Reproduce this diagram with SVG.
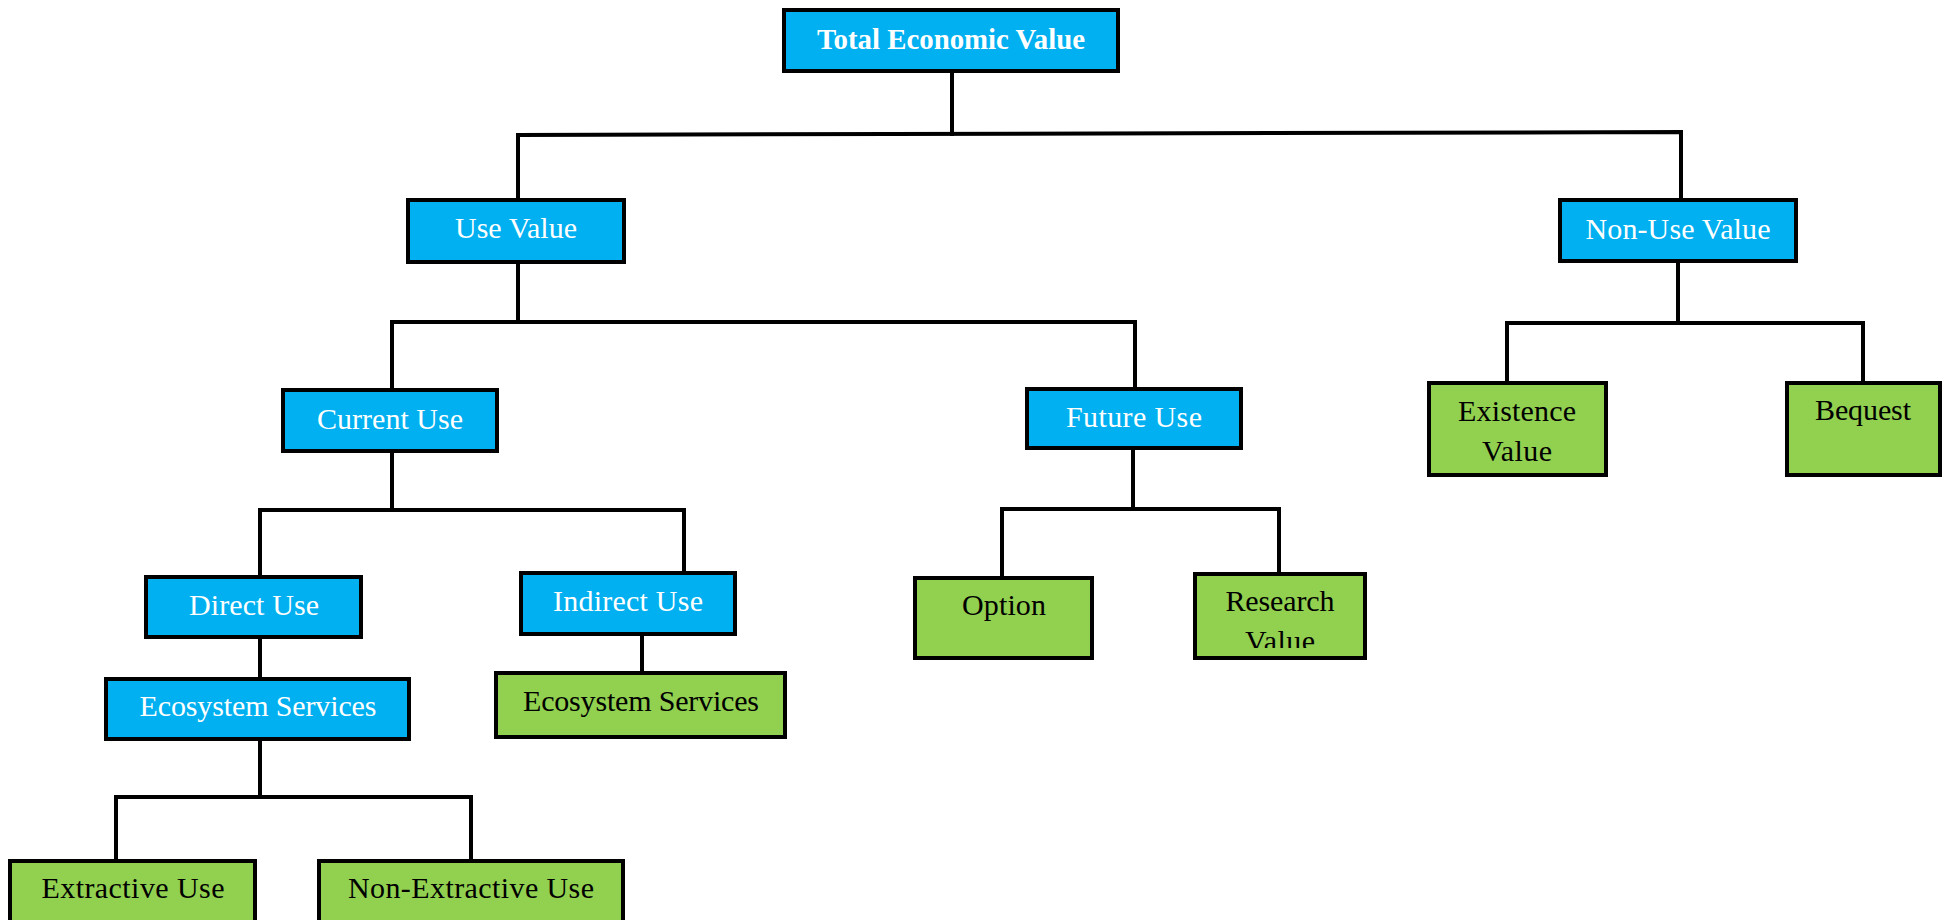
<svg xmlns="http://www.w3.org/2000/svg" width="1951" height="920" viewBox="0 0 1951 920">
<style>
.blue{fill:#00B0F0;stroke:#000;stroke-width:4}
.green{fill:#92D050;stroke:#000;stroke-width:4}
.tw{font-family:"Liberation Serif","Times New Roman",serif;font-size:30px;fill:#fff;text-anchor:middle}
.tb{font-family:"Liberation Serif","Times New Roman",serif;font-size:30px;fill:#000;text-anchor:middle}
.c{fill:none;stroke:#000;stroke-width:4;stroke-linecap:square}
</style>
<defs>
<clipPath id="clipRes"><rect x="1195" y="574" width="170" height="74"/></clipPath>
</defs>
<rect width="1951" height="920" fill="#fff"/>
<g id="connectors">
<path class="c" d="M952,73 V134"/>
<path class="c" d="M518,196 V135 L1681,132 V196"/>
<path class="c" d="M518,264 V322 M392,322 H1135 M392,322 V386 M1135,322 V385"/>
<path class="c" d="M392,453 V510 M260,510 H684 M260,510 V573 M684,510 V569"/>
<path class="c" d="M260,639 V675"/>
<path class="c" d="M642,636 V669"/>
<path class="c" d="M260,741 V797 M116,797 H471 M116,797 V857 M471,797 V857"/>
<path class="c" d="M1133,450 V509 M1002,509 H1279 M1002,509 V574 M1279,509 V570"/>
<path class="c" d="M1678,263 V323 M1507,323 H1863 M1507,323 V379 M1863,323 V379"/>
</g>
<g id="total-economic-value">
<rect class="blue" x="784" y="10" width="334" height="61"/>
<text class="tw" x="951" y="49" font-size="29" font-weight="bold" textLength="268" lengthAdjust="spacingAndGlyphs">Total Economic Value</text>
</g>
<g id="use-value">
<rect class="blue" x="408" y="200" width="216" height="62"/>
<text class="tw" x="516" y="238" textLength="122">Use Value</text>
</g>
<g id="non-use-value">
<rect class="blue" x="1560" y="200" width="236" height="61"/>
<text class="tw" x="1678" y="239" textLength="185">Non-Use Value</text>
</g>
<g id="current-use">
<rect class="blue" x="283" y="390" width="214" height="61"/>
<text class="tw" x="390" y="429" textLength="146">Current Use</text>
</g>
<g id="future-use">
<rect class="blue" x="1027" y="389" width="214" height="59"/>
<text class="tw" x="1134" y="427" textLength="136">Future Use</text>
</g>
<g id="direct-use">
<rect class="blue" x="146" y="577" width="215" height="60"/>
<text class="tw" x="254" y="615" textLength="130">Direct Use</text>
</g>
<g id="indirect-use">
<rect class="blue" x="521" y="573" width="214" height="61"/>
<text class="tw" x="628" y="611" textLength="150">Indirect Use</text>
</g>
<g id="ecosystem-services-direct">
<rect class="blue" x="106" y="679" width="303" height="60"/>
<text class="tw" x="258" y="716" textLength="237">Ecosystem Services</text>
</g>
<g id="ecosystem-services-indirect">
<rect class="green" x="496" y="673" width="289" height="64"/>
<text class="tb" x="641" y="711" textLength="236">Ecosystem Services</text>
</g>
<g id="option">
<rect class="green" x="915" y="578" width="177" height="80"/>
<text class="tb" x="1004" y="615" textLength="84">Option</text>
</g>
<g id="research-value">
<rect class="green" x="1195" y="574" width="170" height="84"/>
<text class="tb" x="1280" y="611" textLength="109">Research</text>
<text class="tb" x="1280" y="651" textLength="70" clip-path="url(#clipRes)">Value</text>
</g>
<g id="existence-value">
<rect class="green" x="1429" y="383" width="177" height="92"/>
<text class="tb" x="1517" y="421" textLength="118">Existence</text>
<text class="tb" x="1517" y="461" textLength="70">Value</text>
</g>
<g id="bequest">
<rect class="green" x="1787" y="383" width="153" height="92"/>
<text class="tb" x="1863" y="420" textLength="96">Bequest</text>
</g>
<g id="extractive-use">
<rect class="green" x="10" y="861" width="245" height="80"/>
<text class="tb" x="133" y="898" textLength="183">Extractive Use</text>
</g>
<g id="non-extractive-use">
<rect class="green" x="319" y="861" width="304" height="80"/>
<text class="tb" x="471" y="898" textLength="246">Non-Extractive Use</text>
</g>
</svg>
